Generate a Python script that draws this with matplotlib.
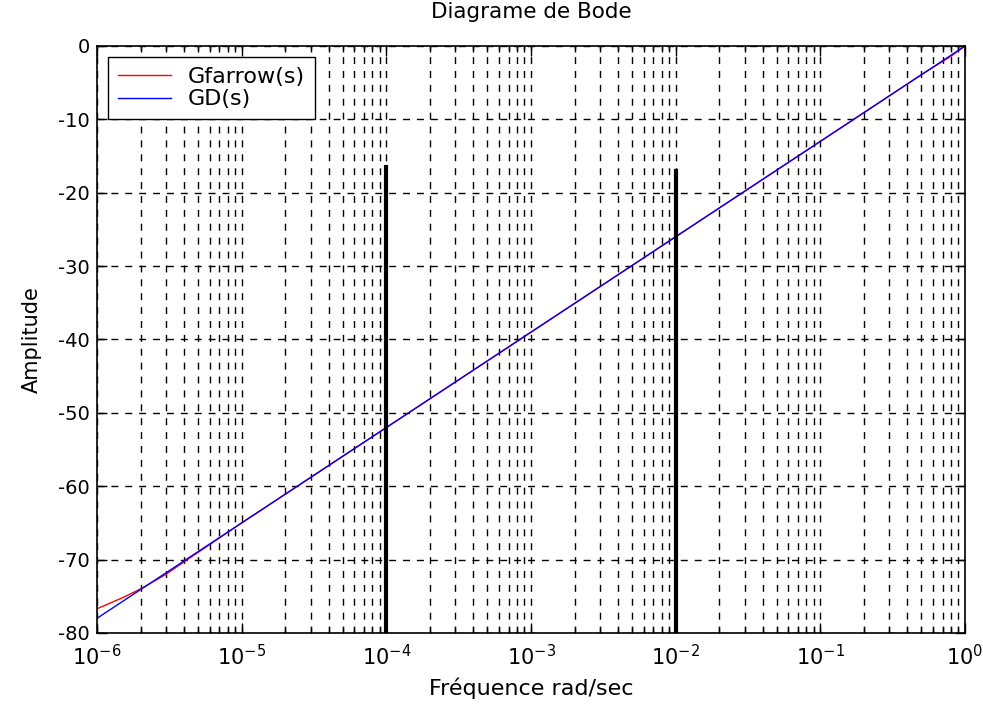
import matplotlib

matplotlib.use("Agg")
import matplotlib.pyplot as plt
from matplotlib.ticker import LogLocator, NullFormatter, FixedLocator

plt.rcParams["font.family"] = ["DejaVu Sans"]
plt.rcParams["axes.unicode_minus"] = False
plt.rcParams["mathtext.fontset"] = "dejavusans"

# values
w_gd = [1e-6, 1e-5, 1e-4, 1e-3, 1e-2, 1e-1, 1.0]
gd_db = [-78.0, -65.0, -52.0, -39.0, -26.0, -13.0, 0.0]

w_gf = [1e-6, 1.5e-6, 2e-6, 3e-6, 4e-6, 1e-5, 1e-4, 1e-3, 1e-2, 1e-1, 0.3, 0.5, 0.8, 1.0]
gf_db = [-76.7, -75.2, -74.0, -72.0, -70.3, -65.0, -52.0, -39.0, -26.0, -13.0, -6.8, -3.9, -1.4, 0.0]

vlines_x = [1e-4, 1e-2]
vlines_top = [-16.5, -17.0]

xtick_vals = [1e-6, 1e-5, 1e-4, 1e-3, 1e-2, 1e-1, 1.0]
xtick_text = [r"$10^{-6}$", r"$10^{-5}$", r"$10^{-4}$", r"$10^{-3}$",
              r"$10^{-2}$", r"$10^{-1}$", r"$10^{0}$"]

fig = plt.figure(figsize=(9.83, 7.04), dpi=100)
ax = fig.add_axes([0.0987, 0.1009, 0.8830, 0.8338])

ax.set_xscale("log")
ax.set_xlim(1e-6, 1.0)
ax.set_ylim(-80, 0)

ax.plot(w_gf, gf_db, color="red", lw=1.0, label="Gfarrow(s)")
ax.plot(w_gd, gd_db, color="blue", lw=1.0, label="GD(s)")

for xv, top in zip(vlines_x, vlines_top):
    ax.plot([xv, xv], [-80, top], color="black", lw=3.0)

ax.xaxis.set_major_locator(FixedLocator(xtick_vals))
ax.xaxis.set_minor_locator(LogLocator(base=10, subs=range(2, 10), numticks=20))
ax.xaxis.set_minor_formatter(NullFormatter())
ax.set_xticklabels(xtick_text)
ax.set_yticks(range(-80, 1, 10))

ax.grid(True, which="both", color="black", ls=(0, (5, 5)), lw=1.0)
ax.tick_params(which="both", direction="in", top=True, right=True, labelsize=14,
               width=1.0, color="black")
ax.tick_params(which="major", length=7)
ax.tick_params(which="minor", length=4)
ax.tick_params(axis="x", pad=8, labelsize=15)
ax.tick_params(axis="y", pad=5)
for s in ax.spines.values():
    s.set_linewidth(1.2)

ax.set_title("Diagrame de Bode", fontsize=15.5, pad=20)
ax.set_xlabel("Fréquence rad/sec", fontsize=16, labelpad=6)
ax.set_ylabel("Amplitude", fontsize=15, labelpad=12)

leg = ax.legend(loc="upper left", fontsize=16, fancybox=False, framealpha=1,
                edgecolor="black", borderaxespad=0.5, handlelength=2.4,
                handletextpad=0.75, borderpad=0.45, labelspacing=0.1)
leg.get_frame().set_linewidth(1.0)

fig.savefig("out.png", dpi=100)
